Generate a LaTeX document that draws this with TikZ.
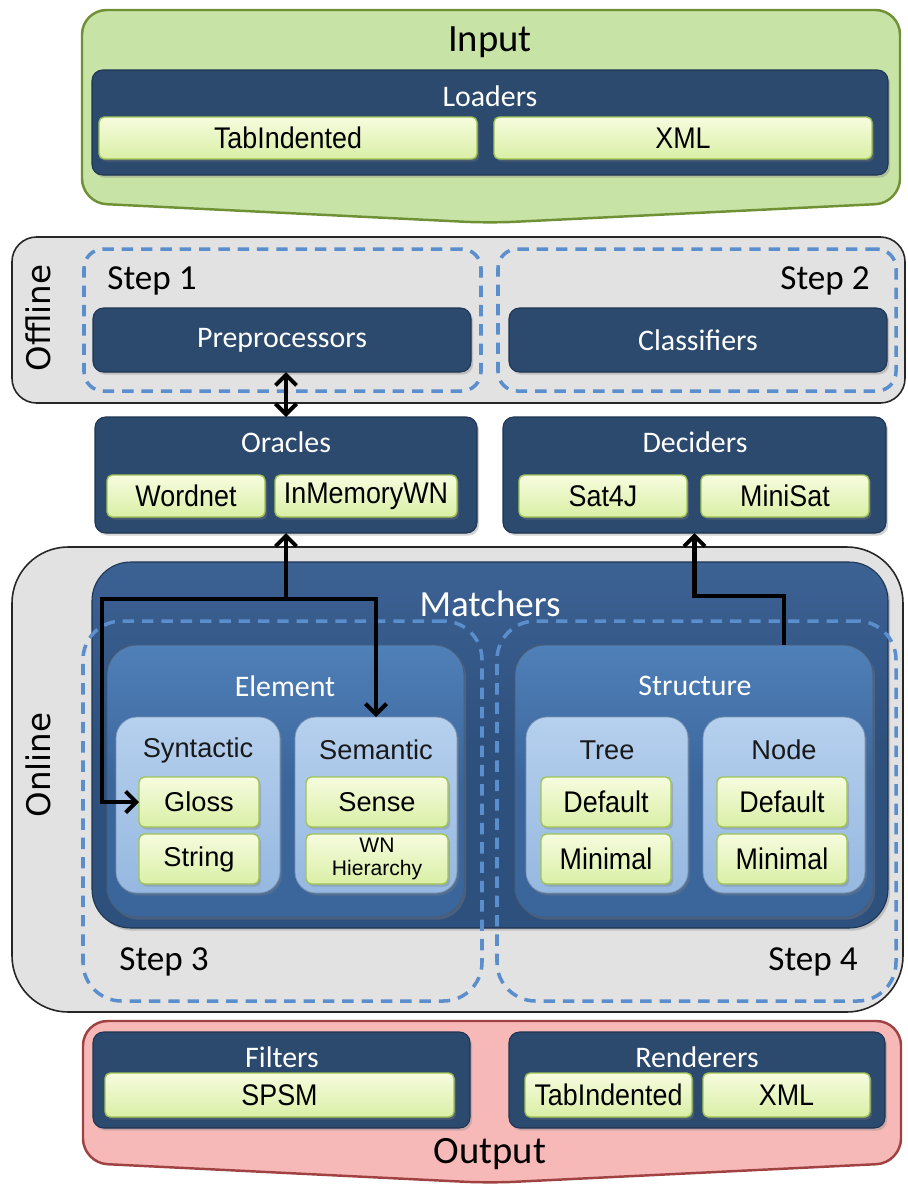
\documentclass[tikz,border=0pt]{standalone}
\usepackage{fontspec}
\setmainfont{Carlito}
\newfontfamily\itemfont{Liberation Sans}
\newfontfamily\narrowfont[FakeStretch=0.9]{Liberation Sans}
\newfontfamily\vfont{DejaVu Sans}
\usetikzlibrary{arrows.meta,shadows,calc}

\definecolor{navy}{RGB}{44,73,110}
\definecolor{navyb}{RGB}{30,52,82}
\definecolor{matchblue}{RGB}{46,80,125}
\definecolor{matchtop}{RGB}{60,98,148}
\definecolor{elemblue}{RGB}{58,102,156}
\definecolor{elemtop}{RGB}{80,128,184}
\definecolor{subtop}{RGB}{182,208,238}
\definecolor{subbot}{RGB}{150,184,224}
\definecolor{itemtop}{RGB}{246,252,222}
\definecolor{itembot}{RGB}{218,239,166}
\definecolor{itemborder}{RGB}{160,196,84}
\definecolor{ingreen}{RGB}{200,227,166}
\definecolor{ingreenb}{RGB}{112,144,54}
\definecolor{outpink}{RGB}{247,184,184}
\definecolor{outpinkb}{RGB}{160,66,66}
\definecolor{grayfill}{RGB}{226,226,226}
\definecolor{dashblue}{RGB}{90,142,204}

\newcommand{\bx}[7]{\node[#6, minimum width={(#4-#2)*0.02cm}, minimum height={(#5-#3)*0.02cm}] (#1) at ({(#2+#4)/2},{(#3+#5)/2}) {#7};}

\begin{document}
\begin{tikzpicture}[x=0.02cm,y=-0.02cm,
  base/.style={rectangle, inner sep=0pt, outer sep=0pt},
  shad/.style={drop shadow={shadow xshift=1.2pt, shadow yshift=-1.5pt, opacity=0.35}},
  graybox/.style={base, draw=black!85, line width=0.9pt, fill=grayfill},
  navybox/.style={base, fill=navy, draw=navyb, line width=0.6pt, rounded corners=6pt, shad,
     text=white, font=\fontsize{17}{20}\selectfont},
  matchbox/.style={base, top color=matchtop, bottom color=matchblue, middle color=matchblue,
     draw=navyb, line width=0.6pt, rounded corners=22pt, shad},
  elembox/.style={base, top color=elemtop, bottom color=elemblue, middle color=elemblue,
     draw=navyb!80, line width=0.5pt, rounded corners=17pt, shad},
  subbox/.style={base, top color=subtop, bottom color=subbot, draw=subbot!80!black, line width=0.4pt,
     rounded corners=12pt, shad},
  item/.style={base, rounded corners=3pt, draw=itemborder, line width=0.8pt,
     top color=itemtop, bottom color=itembot, shad, font=\narrowfont\fontsize{17}{20}\selectfont},
  itemB/.style={item, font=\itemfont\fontsize{15.5}{18}\selectfont},
  dashbox/.style={base, draw=dashblue, line width=2pt, dash pattern=on 6.5pt off 4.5pt},
  ttl/.style={inner sep=0pt, text=white, font=\fontsize{17}{20}\selectfont},
  subttl/.style={inner sep=0pt, text=black!90, font=\itemfont\fontsize{15.5}{18}\selectfont},
  steplbl/.style={inner sep=0pt, text=black, font=\fontsize{20}{24}\selectfont},
  biglbl/.style={inner sep=0pt, text=black, font=\fontsize{22}{26}\selectfont},
  vlbl/.style={inner sep=0pt, text=black, rotate=90, font=\vfont\fontsize{18.5}{22}\selectfont},
  arr/.style={line width=2.3pt, -{Straight Barb[length=6pt,width=12pt]}},
  dbl/.style={line width=2.3pt, {Straight Barb[length=6pt,width=12pt]}-{Straight Barb[length=6pt,width=12pt]}}
]
\useasboundingbox (0,0) rectangle (907,1184);

% ---------------- Input ----------------
\draw[fill=ingreen, draw=ingreenb, line width=1.4pt, rounded corners=14pt]
  (490,10) -- (900,10) -- (900,203) -- (490,223) -- (82,203) -- (82,10) -- cycle;
\node[biglbl] (tin) at (490,42) {Input};
\bx{load}{92}{70}{888}{175}{navybox}{}
\node[ttl] (tload) at (490,96) {Loaders};
\bx{ld1}{99}{117}{477}{159}{item}{TabIndented}
\bx{ld2}{494}{117}{872}{159}{item}{XML}

% ---------------- Offline ----------------
\bx{offline}{12}{237}{905}{403}{graybox, rounded corners=14pt}{}
\node[vlbl] (toff) at (38,318) {Offline};
\bx{s1}{84}{249}{481}{391}{dashbox, rounded corners=11pt}{}
\bx{s2}{498}{249}{896}{391}{dashbox, rounded corners=11pt}{}
\node[steplbl] (ts1) at (152,281) {Step 1};
\node[steplbl] (ts2) at (825,281) {Step 2};
\bx{pre}{93}{308}{471}{372}{navybox}{Preprocessors}
\bx{cls}{509}{308}{887}{372}{navybox}{Classifiers}

% ---------------- Oracles / Deciders ----------------
\bx{orc}{95}{417}{477}{533}{navybox}{}
\node[ttl] (torc) at (286,442) {Oracles};
\bx{wn}{107}{475}{265}{517}{item}{Wordnet}
\bx{imwn}{275}{475}{457}{517}{item}{InMemoryWN}
\bx{dec}{503}{417}{886}{533}{navybox}{}
\node[ttl] (tdec) at (695,442) {Deciders};
\bx{sat}{519}{475}{687}{517}{item}{Sat4J}
\bx{mini}{701}{475}{869}{517}{item}{MiniSat}

% ---------------- Online ----------------
\bx{online}{12}{547}{903}{1012}{graybox, rounded corners=32pt}{}
\node[vlbl] (tonl) at (38,765) {Online};
\bx{mat}{92}{562}{888}{928}{matchbox}{}
\node[ttl, font=\fontsize{21}{25}\selectfont] (tmat) at (490,604) {Matchers};
\bx{s3}{83}{621}{482}{1001}{dashbox, rounded corners=22pt}{}
\bx{s4}{497}{621}{896}{1001}{dashbox, rounded corners=22pt}{}
\node[steplbl] (ts3) at (164,962) {Step 3};
\node[steplbl] (ts4) at (813,962) {Step 4};

\bx{elem}{107}{645}{464}{917}{elembox}{}
\node[ttl] (telem) at (285,686) {Element};
\bx{struct}{515}{645}{873}{917}{elembox}{}
\node[ttl] (tstruct) at (695,686) {Structure};

\bx{syn}{116}{717}{280}{893}{subbox}{}
\node[subttl] (tsyn) at (198,750) {Syntactic};
\bx{sem}{295}{717}{457}{893}{subbox}{}
\node[subttl] (tsem) at (376,750) {Semantic};
\bx{tree}{526}{717}{688}{893}{subbox}{}
\node[subttl] (ttree) at (607,750) {Tree};
\bx{nodeb}{703}{717}{865}{893}{subbox}{}
\node[subttl] (tnode) at (784,750) {Node};

\bx{gloss}{139}{777}{259}{827}{itemB}{Gloss}
\bx{string}{139}{834}{259}{884}{itemB}{String}
\bx{sense}{306}{777}{448}{827}{itemB}{Sense}
\bx{wnh}{306}{834}{448}{884}{itemB, align=center, font=\itemfont\fontsize{12}{13}\selectfont}{WN\\Hierarchy}
\bx{tdef}{541}{777}{671}{827}{item}{Default}
\bx{tmin}{541}{834}{671}{884}{item}{Minimal}
\bx{ndef}{717}{777}{847}{827}{item}{Default}
\bx{nmin}{717}{834}{847}{884}{item}{Minimal}

% ---------------- Output ----------------
\draw[fill=outpink, draw=outpinkb, line width=1.4pt, rounded corners=14pt]
  (490,1021) -- (901,1021) -- (901,1163) -- (490,1183) -- (83,1163) -- (83,1021) -- cycle;
\bx{fil}{93}{1032}{470}{1128}{navybox}{}
\node[ttl] (tfil) at (282,1057) {Filters};
\bx{spsm}{105}{1073}{454}{1117}{item}{SPSM}
\bx{ren}{509}{1032}{885}{1128}{navybox}{}
\node[ttl] (tren) at (697,1057) {Renderers};
\bx{rtab}{525}{1073}{692}{1117}{item}{TabIndented}
\bx{rxml}{703}{1073}{870}{1117}{item}{XML}
\node[biglbl] (tout) at (490,1154) {Output};

% ---------------- Connectors ----------------
\draw[dbl] (pre.south -| orc.north) -- (orc.north);
\coordinate (j1) at (286,599);
\coordinate (k1) at (102,599);
\draw[arr] (j1) -- (orc.south);
\draw[arr] (j1) -| (sem.north);
\draw[arr] (j1) -- (k1) |- (gloss.west);
\coordinate (j2) at (694.5,596);
\draw[arr] (nodeb.north |- struct.north) |- (j2) -- (dec.south);
\end{tikzpicture}
\end{document}
